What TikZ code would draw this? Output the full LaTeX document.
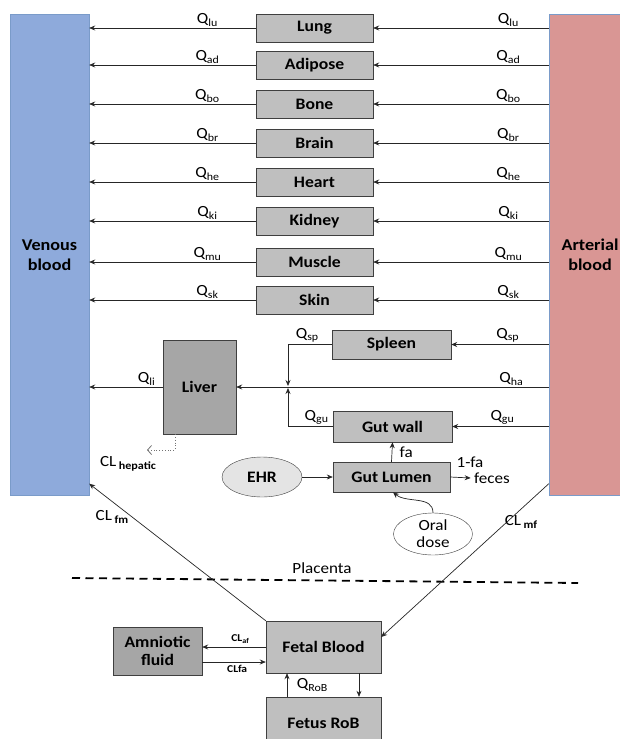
\documentclass[tikz,border=0pt]{standalone}
\usepackage{fontspec}
\setmainfont{Carlito}[FakeStretch=1.1]
\usetikzlibrary{arrows.meta,positioning,shapes.geometric}
\definecolor{venousblue}{HTML}{8EAADB}
\definecolor{arterialred}{HTML}{D99694}
\definecolor{poolline}{HTML}{7A9BC9}
\definecolor{organgray}{HTML}{BFBFBF}
\definecolor{livergray}{HTML}{A6A6A6}
\definecolor{boxline}{HTML}{3F3F3F}
\definecolor{ehrgray}{HTML}{E4E4E4}
\newcommand{\clsub}[1]{CL\,\raisebox{-3pt}{\fontsize{11}{11}\bfseries\selectfont #1}}

\begin{document}
\begin{tikzpicture}[x=1pt,y=-1pt,>={Stealth[length=6pt,width=5pt]},
 every node/.style={align=center},
 organ/.style={draw=boxline,fill=organgray,inner sep=0pt,
   minimum width=117pt,minimum height=28pt,font=\bfseries\fontsize{16}{18}\selectfont},
 pool/.style={draw=poolline,minimum width=79pt,minimum height=481pt,
   font=\bfseries\fontsize{16.5}{20}\selectfont},
 bubble/.style={ellipse,draw=boxline,inner sep=0pt,font=\fontsize{15.5}{17}\selectfont},
 flow/.style={->,draw=black!85,line width=0.7pt},
 qlab/.style={above,inner sep=1.5pt,font=\fontsize{15.5}{16}\selectfont},
 small/.style={font=\fontsize{15.5}{17}\selectfont}]
    \useasboundingbox (0,0) rectangle (619,739);

    % blood pools
    \node[pool,fill=venousblue] (venous) at (49.5,255) {Venous\\blood};
    \node[pool,fill=arterialred,minimum width=82pt] (arterial) at (590,255)
        {Arterial\\blood};

    % organs
    \node[organ] (lung) at (314.5,28) {Lung};
    \node[organ] (adipose) at (314.5,65) {Adipose};
    \node[organ] (bone) at (314.5,104) {Bone};
    \node[organ] (brain) at (314.5,143) {Brain};
    \node[organ] (heart) at (314.5,182) {Heart};
    \node[organ] (kidney) at (314.5,221) {Kidney};
    \node[organ] (muscle) at (314.5,262) {Muscle};
    \node[organ] (skin) at (314.5,300) {Skin};

    \draw[flow] (lung.west) -- node[qlab,pos=0.29]{Q\textsubscript{lu}} (lung.west -| venous.east);
    \draw[flow] (lung.east -| arterial.west) -- node[qlab,pos=0.23]{Q\textsubscript{lu}} (lung.east);
    \draw[flow] (adipose.west) -- node[qlab,pos=0.29]{Q\textsubscript{ad}} (adipose.west -| venous.east);
    \draw[flow] (adipose.east -| arterial.west) -- node[qlab,pos=0.23]{Q\textsubscript{ad}} (adipose.east);
    \draw[flow] (bone.west) -- node[qlab,pos=0.29]{Q\textsubscript{bo}} (bone.west -| venous.east);
    \draw[flow] (bone.east -| arterial.west) -- node[qlab,pos=0.23]{Q\textsubscript{bo}} (bone.east);
    \draw[flow] (brain.west) -- node[qlab,pos=0.29]{Q\textsubscript{br}} (brain.west -| venous.east);
    \draw[flow] (brain.east -| arterial.west) -- node[qlab,pos=0.23]{Q\textsubscript{br}} (brain.east);
    \draw[flow] (heart.west) -- node[qlab,pos=0.29]{Q\textsubscript{he}} (heart.west -| venous.east);
    \draw[flow] (heart.east -| arterial.west) -- node[qlab,pos=0.23]{Q\textsubscript{he}} (heart.east);
    \draw[flow] (kidney.west) -- node[qlab,pos=0.29]{Q\textsubscript{ki}} (kidney.west -| venous.east);
    \draw[flow] (kidney.east -| arterial.west) -- node[qlab,pos=0.23]{Q\textsubscript{ki}} (kidney.east);
    \draw[flow] (muscle.west) -- node[qlab,pos=0.29]{Q\textsubscript{mu}} (muscle.west -| venous.east);
    \draw[flow] (muscle.east -| arterial.west) -- node[qlab,pos=0.23]{Q\textsubscript{mu}} (muscle.east);
    \draw[flow] (skin.west) -- node[qlab,pos=0.29]{Q\textsubscript{sk}} (skin.west -| venous.east);
    \draw[flow] (skin.east -| arterial.west) -- node[qlab,pos=0.23]{Q\textsubscript{sk}} (skin.east);

    % splanchnic part
    \node[organ,minimum width=119pt,minimum height=29pt] (spleen) at (391.5,344.5) {Spleen};
    \node[organ,fill=livergray,minimum width=73pt,minimum height=94pt] (liver) at (199.5,387) {Liver};
    \node[organ,minimum width=119pt,minimum height=31pt] (gutwall) at (392.5,426.5) {Gut wall};
    \node[organ,minimum height=30pt] (gutlumen) at (391.5,477) {Gut Lumen};
    \coordinate (junc) at (288,387);

    \draw[flow] (spleen.east -| arterial.west) -- node[qlab,pos=0.42]{Q\textsubscript{sp}} (spleen.east);
    \draw[flow] (liver.east -| arterial.west) -- node[qlab,pos=0.12]{Q\textsubscript{ha}} (liver.east);
    \draw[flow] (gutwall.east -| arterial.west) -- node[qlab,pos=0.48]{Q\textsubscript{gu}} (gutwall.east);
    \draw[flow,shorten >=1pt] (spleen.west) -| node[qlab,pos=0.28]{Q\textsubscript{sp}} (junc);
    \draw[flow,shorten >=1pt] (gutwall.west) -| node[qlab,pos=0.18]{Q\textsubscript{gu}} (junc);
    \draw[flow] (liver.west) -- node[qlab,pos=0.22]{Q\textsubscript{li}} (liver.west -| venous.east);

    \coordinate (hepend) at (147,450);
    \draw[dotted,draw=black!55,line width=0.8pt,-{Straight Barb[length=4pt,width=9pt]}]
        ([xshift=-24.5pt]liver.south) |- (hepend);
    \node[small] (clhep) at (128,464) {\clsub{hepatic}};

    \node[bubble,fill=ehrgray,minimum width=80pt,minimum height=40pt,
          font=\bfseries\fontsize{16}{17}\selectfont] (ehr) at (262,477) {EHR};
    \node[bubble,fill=white,minimum width=79pt,minimum height=42pt] (oral) at (433,534)
        {Oral\\dose};
    \node[small] (onefa) at (470,462) {1-fa};
    \node[small] (feces) at (492,478) {feces};

    \draw[flow] (ehr) -- (gutlumen);
    \draw[flow] (gutlumen.north) -- node[right=4pt,small]{fa} (gutwall.south);
    \draw[flow] (gutlumen.east) -- (feces.west);
    \draw[flow] (oral.north) to[out=90,in=-40] ([xshift=1.5pt]gutlumen.south);

    % placenta
    \coordinate (placentaL) at (72,578);
    \coordinate (placentaR) at (578,583);
    \draw[line width=1.8pt,dash pattern=on 8pt off 5.5pt] (placentaL) -- (placentaR);
    \node[small] (placenta) at (322,568) {Placenta};

    % fetal side
    \node[organ,minimum width=115pt,minimum height=52pt] (fetal) at (323.5,647) {Fetal Blood};
    \node[organ,fill=livergray,minimum width=89pt,minimum height=48pt] (amniotic) at (157.5,651)
        {Amniotic\\fluid};
    \node[organ,minimum width=115pt,minimum height=52pt] (rob) at (323.5,723) {Fetus RoB};

    \draw[flow] (fetal.north west) -- ([yshift=12pt]venous.south east);
    \node[small] (clfm) at (112,517) {\clsub{fm}};
    \draw[flow] ([yshift=12pt]arterial.south west) -- ([yshift=10pt]fetal.east);
    \node[small] (clmf) at (521,522) {\clsub{mf}};

    \draw[flow] (fetal.west) -- node[above,pos=0.4,font=\bfseries\fontsize{10.5}{11}\selectfont]
        {CL\textsubscript{af}} (fetal.west -| amniotic.east);
    \draw[flow] ([yshift=-15pt]fetal.west -| amniotic.east) -- node[below,pos=0.55,
        font=\bfseries\fontsize{10.5}{11}\selectfont]{CLfa} ([yshift=-15pt]fetal.west);
    \draw[flow] ([xshift=-36.5pt]rob.north) -- node[right=8pt,qlab,anchor=west]
        {Q\textsubscript{RoB}} ([xshift=-36.5pt]fetal.south);
    \draw[flow] ([xshift=35.5pt]fetal.south) -- ([xshift=35.5pt]rob.north);
\end{tikzpicture}
\end{document}
